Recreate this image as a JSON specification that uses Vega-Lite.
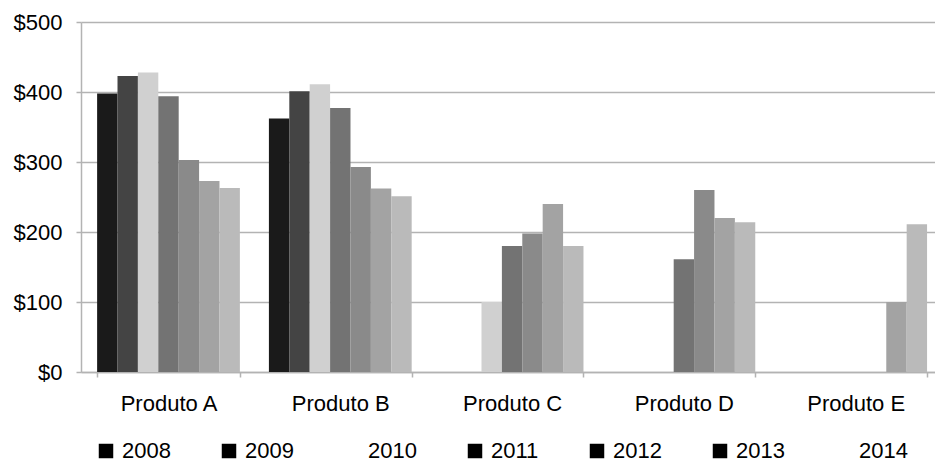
{
  "$schema": "https://vega.github.io/schema/vega-lite/v6.json",
  "autosize": "none",
  "width": 854,
  "height": 350,
  "padding": {"left": 81, "top": 22, "right": 0, "bottom": 90},
  "background": "white",
  "config": {
    "font": "Liberation Sans",
    "view": {"stroke": null}
  },
  "data": {
    "values": [
      {"produto": "Produto A", "ano": "2008", "valor": 398},
      {"produto": "Produto A", "ano": "2009", "valor": 423},
      {"produto": "Produto A", "ano": "2010", "valor": 428},
      {"produto": "Produto A", "ano": "2011", "valor": 394},
      {"produto": "Produto A", "ano": "2012", "valor": 303},
      {"produto": "Produto A", "ano": "2013", "valor": 273},
      {"produto": "Produto A", "ano": "2014", "valor": 263},
      {"produto": "Produto B", "ano": "2008", "valor": 362},
      {"produto": "Produto B", "ano": "2009", "valor": 401},
      {"produto": "Produto B", "ano": "2010", "valor": 411},
      {"produto": "Produto B", "ano": "2011", "valor": 377},
      {"produto": "Produto B", "ano": "2012", "valor": 293},
      {"produto": "Produto B", "ano": "2013", "valor": 262},
      {"produto": "Produto B", "ano": "2014", "valor": 251},
      {"produto": "Produto C", "ano": "2010", "valor": 100},
      {"produto": "Produto C", "ano": "2011", "valor": 180},
      {"produto": "Produto C", "ano": "2012", "valor": 198},
      {"produto": "Produto C", "ano": "2013", "valor": 240},
      {"produto": "Produto C", "ano": "2014", "valor": 180},
      {"produto": "Produto D", "ano": "2011", "valor": 161},
      {"produto": "Produto D", "ano": "2012", "valor": 260},
      {"produto": "Produto D", "ano": "2013", "valor": 220},
      {"produto": "Produto D", "ano": "2014", "valor": 214},
      {"produto": "Produto E", "ano": "2013", "valor": 100},
      {"produto": "Produto E", "ano": "2014", "valor": 211}
    ]
  },
  "encoding": {
    "x": {
      "field": "produto",
      "type": "nominal",
      "title": null,
      "scale": {"paddingInner": 0.169, "paddingOuter": 0.07, "align": 0.67},
      "axis": {
        "labelAngle": 0,
        "labelFontSize": 22,
        "labelColor": "black",
        "labelPadding": 16,
        "tickBand": "extent",
        "tickSize": 5,
        "tickColor": "#b3b3b3",
        "tickWidth": 1.5,
        "domainColor": "#b3b3b3",
        "domainWidth": 1.5,
        "grid": false
      }
    },
    "xOffset": {
      "field": "ano",
      "type": "nominal",
      "scale": {"domain": ["2008", "2009", "2010", "2011", "2012", "2013", "2014"], "paddingInner": 0, "paddingOuter": 0}
    },
    "y": {
      "field": "valor",
      "type": "quantitative",
      "title": null,
      "scale": {"domain": [0, 500]},
      "axis": {
        "values": [0, 100, 200, 300, 400, 500],
        "format": "$,.0f",
        "labelFontSize": 22,
        "labelColor": "black",
        "labelPadding": 14,
        "tickSize": 5,
        "tickColor": "#b3b3b3",
        "tickWidth": 1.5,
        "domainColor": "#b3b3b3",
        "domainWidth": 1.5,
        "gridColor": "#b3b3b3",
        "gridWidth": 1.5
      }
    }
  },
  "layer": [
    {
      "mark": {"type": "bar"},
      "encoding": {
        "color": {
          "field": "ano",
          "type": "nominal",
          "legend": null,
          "scale": {
            "range": ["#1a1a1a", "#444444", "#d0d0d0", "#737373", "#8a8a8a", "#a3a3a3", "#bababa"]
          }
        }
      }
    },
    {
      "mark": {"type": "square", "filled": true, "size": 0},
      "encoding": {
        "fill": {
          "field": "ano",
          "type": "nominal",
          "title": null,
          "scale": {
            "domain": ["2008", "2009", "2010", "2011", "2012", "2013", "2014"],
            "range": ["#000000", "#000000", "#ffffff", "#000000", "#000000", "#000000", "#ffffff"]
          },
          "legend": {
            "orient": "none",
            "direction": "horizontal",
            "legendX": 14,
            "legendY": 418,
            "symbolType": "square",
            "symbolSize": 210,
            "symbolOpacity": 1,
            "symbolStrokeWidth": 0,
            "labelFontSize": 22,
            "labelColor": "black",
            "labelOffset": 5,
            "columnPadding": 47,
            "padding": 0
          }
        }
      }
    }
  ]
}
